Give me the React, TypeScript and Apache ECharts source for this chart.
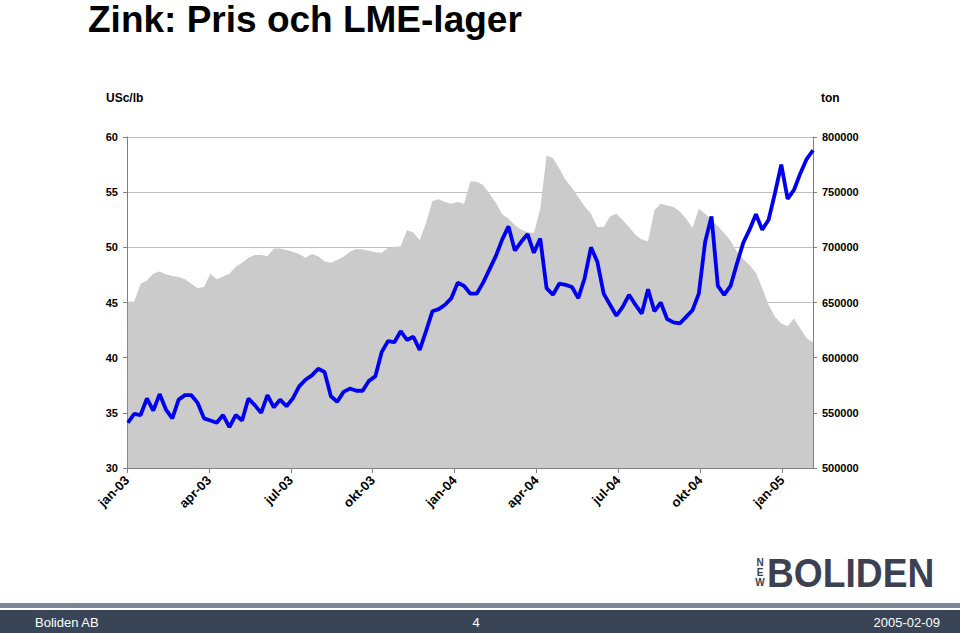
import React, { useEffect, useRef } from 'react';
import * as echarts from 'echarts';

const chartTitle = 'Zink: Pris och LME-lager';
const leftUnit = 'USc/lb';
const rightUnit = 'ton';
const quarterLabels = ['jan-03', 'apr-03', 'jul-03', 'okt-03', 'jan-04', 'apr-04', 'jul-04', 'okt-04', 'jan-05'];
const firstSampleDate = '2003-01-02';
const lastSampleDate = '2005-02-04';

// Zinc price, US cents per lb (evenly spaced samples, ~weekly)
const priceUScLb = [
  34.1, 34.9, 34.8, 36.3, 35.2, 36.7, 35.3, 34.5, 36.2, 36.6,
  36.6, 35.9, 34.5, 34.3, 34.1, 34.8, 33.7, 34.8, 34.3, 36.3,
  35.7, 35.0, 36.6, 35.5, 36.2, 35.6, 36.3, 37.4, 38.0, 38.4,
  39.0, 38.7, 36.5, 36.0, 36.9, 37.2, 37.0, 37.0, 37.9, 38.3,
  40.5, 41.5, 41.4, 42.4, 41.6, 41.9, 40.7, 42.4, 44.2, 44.4,
  44.8, 45.4, 46.8, 46.5, 45.8, 45.8, 46.8, 48.0, 49.2, 50.7,
  51.9, 49.7, 50.5, 51.2, 49.5, 50.8, 46.3, 45.7, 46.7, 46.6,
  46.4, 45.4, 47.2, 50.0, 48.7, 45.8, 44.8, 43.8, 44.6, 45.7,
  44.8, 44.0, 46.2, 44.2, 45.0, 43.5, 43.2, 43.1, 43.7, 44.3,
  45.8, 50.5, 52.8, 46.5, 45.7, 46.5, 48.5, 50.4, 51.6, 53.0,
  51.6, 52.5, 54.9, 57.5, 54.4, 55.2, 56.7, 58.0, 58.8,
];

// LME zinc stocks, tonnes (same sample dates)
const lmeStockTon = [
  651000, 651000, 667000, 670000, 676000, 678000, 675500, 674000, 673000, 671000,
  667000, 663000, 664000, 676000, 671000, 673500, 676000, 682500, 686000, 690500,
  693000, 693000, 692000, 699000, 699000, 697500, 696000, 694000, 690500, 694000,
  692000, 687500, 686000, 688500, 691500, 696000, 698500, 698000, 697000, 695500,
  695000, 699500, 700500, 701000, 715500, 713500, 706500, 722000, 742000, 743500,
  741000, 739500, 741000, 739500, 760000, 759500, 756500, 748500, 740500, 730000,
  726000, 720000, 716000, 714000, 713000, 735000, 783000, 781000, 771500, 761000,
  754000, 745500, 737000, 730500, 718500, 718500, 728000, 730500, 724500, 718500,
  711500, 707000, 705500, 733500, 739500, 738000, 736500, 732500, 726000, 717500,
  735000, 730500, 725000, 719000, 713000, 706000, 696000, 689500, 684000, 677000,
  663000, 648000, 637000, 631000, 628500, 635500, 626500, 617500, 614000,
];

const DAY = 86400000;
const MONTH_DAYS = 365.25 / 12;
const axisStart = Date.UTC(2003, 0, 1);
const tFirst = Date.parse(firstSampleDate);
const tLast = Date.parse(lastSampleDate);
const nSamples = priceUScLb.length;
const toMonths = (t: number) => (t - axisStart) / DAY / MONTH_DAYS;
const sampleMonths = priceUScLb.map((_, i) => toMonths(tFirst + ((tLast - tFirst) * i) / (nSamples - 1)));
const xMax = toMonths(tLast);
const quarterTicks = quarterLabels.map((_, i) => i * 3);

export default function App() {
  const ref = useRef<HTMLDivElement>(null);
  useEffect(() => {
    if (!ref.current) return;
    const chart = echarts.init(ref.current, undefined, { renderer: 'svg' });
    const font = 'Arial, "Liberation Sans", sans-serif';
    const axisGray = '#808080';
    chart.setOption({
      animation: false,
      backgroundColor: '#ffffff',
      grid: { left: 127, right: 147, top: 137, bottom: 165 },
      xAxis: {
        type: 'value',
        min: 0,
        max: xMax,
        interval: 3,
        axisLine: { show: true, onZero: false, lineStyle: { color: axisGray, width: 1 } },
        axisTick: { show: true, length: 5, lineStyle: { color: axisGray }, customValues: quarterTicks },
        axisLabel: {
          rotate: 45,
          margin: 10,
          fontSize: 13,
          fontWeight: 'bold',
          fontFamily: font,
          color: '#000',
          customValues: quarterTicks,
          formatter: (v: number) => {
            const k = Math.round(v / 3);
            return Math.abs(v - k * 3) < 1e-6 && quarterLabels[k] ? quarterLabels[k] : '';
          },
        },
        splitLine: { show: false },
      },
      yAxis: [
        {
          type: 'value',
          position: 'left',
          min: 30,
          max: 60,
          interval: 5,
          axisLine: { show: true, lineStyle: { color: axisGray } },
          axisTick: { show: true, length: 4, lineStyle: { color: axisGray } },
          axisLabel: { margin: 9, fontSize: 11, fontWeight: 'bold', fontFamily: font, color: '#000' },
          splitLine: { show: true, lineStyle: { color: '#c0c0c0', width: 1 } },
        },
        {
          type: 'value',
          position: 'right',
          min: 500000,
          max: 800000,
          interval: 50000,
          axisLine: { show: true, lineStyle: { color: axisGray } },
          axisTick: { show: true, length: 4, lineStyle: { color: axisGray } },
          axisLabel: {
            margin: 9,
            fontSize: 11,
            fontWeight: 'bold',
            fontFamily: font,
            color: '#000',
            formatter: (v: number) => String(Math.round(v)),
          },
          splitLine: { show: false },
        },
      ],
      series: [
        {
          name: 'LME-lager',
          type: 'line',
          yAxisIndex: 1,
          data: sampleMonths.map((m, i) => [m, lmeStockTon[i]]),
          showSymbol: false,
          symbol: 'none',
          lineStyle: { width: 0, color: '#cbcbcb' },
          itemStyle: { color: '#cbcbcb' },
          areaStyle: { color: '#cbcbcb', opacity: 1, origin: 'start' },
          z: 1,
        },
        {
          name: 'Pris',
          type: 'line',
          yAxisIndex: 0,
          data: sampleMonths.map((m, i) => [m, priceUScLb[i]]),
          showSymbol: false,
          symbol: 'none',
          lineStyle: { width: 3.8, color: '#0000f0' },
          itemStyle: { color: '#0000f0' },
          z: 3,
        },
      ],
      graphic: [
        { type: 'text', x: 88, y: 19, style: { text: chartTitle, font: 'bold 37px ' + font, fill: '#000', verticalAlign: 'middle' } },
        { type: 'text', x: 106, y: 98, style: { text: leftUnit, font: 'bold 12px ' + font, fill: '#000', verticalAlign: 'middle' } },
        { type: 'text', x: 821, y: 98, style: { text: rightUnit, font: 'bold 12px ' + font, fill: '#000', verticalAlign: 'middle' } },
        { type: 'text', x: 760, y: 562, style: { text: 'N', font: 'bold 10px ' + font, fill: '#3b4150', align: 'center', verticalAlign: 'middle' } },
        { type: 'text', x: 760, y: 572, style: { text: 'E', font: 'bold 10px ' + font, fill: '#3b4150', align: 'center', verticalAlign: 'middle' } },
        { type: 'text', x: 760, y: 582, style: { text: 'W', font: 'bold 10px ' + font, fill: '#3b4150', align: 'center', verticalAlign: 'middle' } },
        { type: 'text', x: 767, y: 573, scaleX: 0.93, style: { text: 'BOLIDEN', font: 'bold 40px ' + font, fill: '#3b4150', verticalAlign: 'middle' } },
        { type: 'rect', shape: { x: 0, y: 603, width: 960, height: 5 }, style: { fill: '#7a8596' } },
        { type: 'rect', shape: { x: 0, y: 610, width: 960, height: 23 }, style: { fill: '#394456' } },
        { type: 'text', x: 35, y: 622, style: { text: 'Boliden AB', font: '13px ' + font, fill: '#ffffff', verticalAlign: 'middle' } },
        { type: 'text', x: 476, y: 622, style: { text: '4', font: '13px ' + font, fill: '#ffffff', align: 'center', verticalAlign: 'middle' } },
        { type: 'text', x: 940, y: 622, style: { text: '2005-02-09', font: '13px ' + font, fill: '#ffffff', align: 'right', verticalAlign: 'middle' } },
      ],
    });
    return () => chart.dispose();
  }, []);
  return <div ref={ref} style={{ position: 'absolute', left: 0, top: 0, width: 960, height: 633 }} />;
}
